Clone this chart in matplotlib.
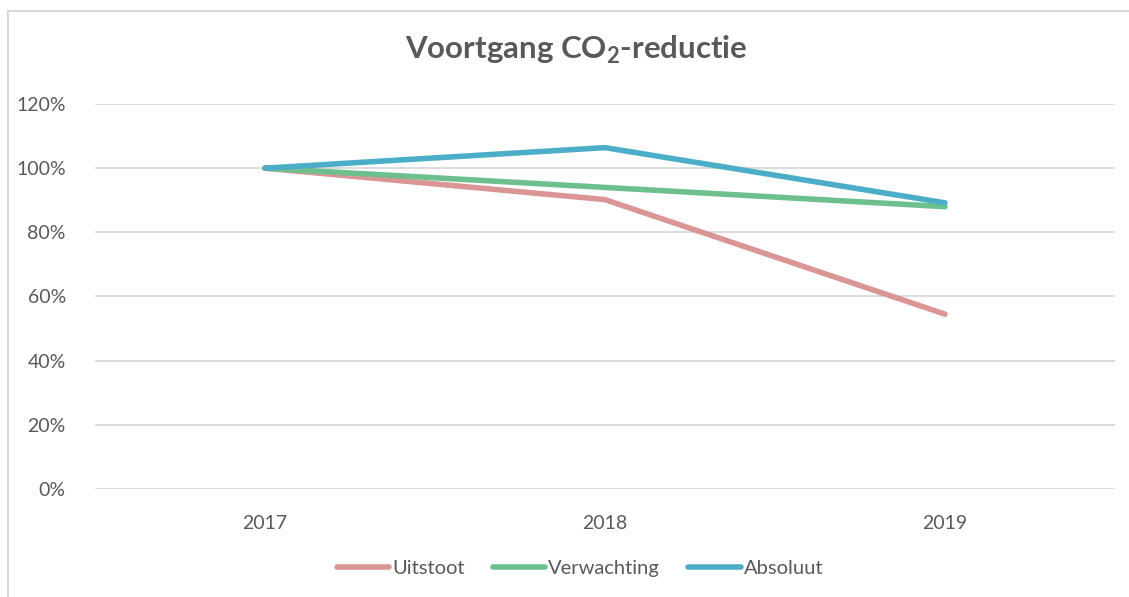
import matplotlib
matplotlib.use("Agg")
import matplotlib.pyplot as plt
from matplotlib.lines import Line2D
from matplotlib.ticker import FuncFormatter, MultipleLocator

years = ["2017", "2018", "2019"]
uitstoot = [1.00, 0.902, 0.545]
verwachting = [1.00, 0.940, 0.880]
absoluut = [1.00, 1.064, 0.892]

series_names = ["Uitstoot", "Verwachting", "Absoluut"]
colors = ["#DA9694", "#6DC08E", "#4BADC8"]
txt = "#595959"

plt.rcParams['font.family'] = ['Lato', 'DejaVu Sans']

fig = plt.figure(figsize=(11.29, 5.97), dpi=100)
ax = fig.add_axes([95/1129, 1-489/597, (1115-95)/1129, (489-104)/597])

x = list(range(len(years)))
for vals, name, c in zip([uitstoot, verwachting, absoluut], series_names, colors):
    ax.plot(x, vals, color=c, lw=4.0, solid_capstyle='round', solid_joinstyle='round', label=name, zorder=3)

ax.set_xlim(-0.5, len(years) - 0.5)
ax.set_ylim(0, 1.2)
ax.yaxis.set_major_locator(MultipleLocator(0.2))
ax.yaxis.set_major_formatter(FuncFormatter(lambda v, p: f"{v*100:.0f}%"))
ax.set_xticks(x)
ax.set_xticklabels(years)
ax.grid(axis='y', color='#D9D9D9', lw=1.3, zorder=0)
for s in ax.spines.values():
    s.set_visible(False)
ax.tick_params(axis='both', length=0, labelsize=14, labelcolor=txt)
ax.tick_params(axis='y', pad=21)
ax.tick_params(axis='x', pad=19)

fig.text(576/1129, 1-50/597, r"Voortgang CO$_\mathregular{2}$-reductie", ha='center', va='center',
         fontsize=22.5, fontweight='bold', color=txt)

handles = [Line2D([0], [0], color=c, lw=4.0, solid_capstyle='round') for c in colors]
fig.legend(handles, series_names, loc='center', bbox_to_anchor=(580/1129, 1-568/597), ncol=3,
           frameon=False, fontsize=14.5, labelcolor=txt, handlelength=2.6, handletextpad=0.15,
           columnspacing=1.4)

# chart border (left and top)
fig.add_artist(Line2D([8/1129, 8/1129], [0, 1-11/597], transform=fig.transFigure, color='#D9D9D9', lw=1.5))
fig.add_artist(Line2D([8/1129, 1], [1-11/597, 1-11/597], transform=fig.transFigure, color='#D9D9D9', lw=1.5))

fig.savefig("out.png", dpi=100)
